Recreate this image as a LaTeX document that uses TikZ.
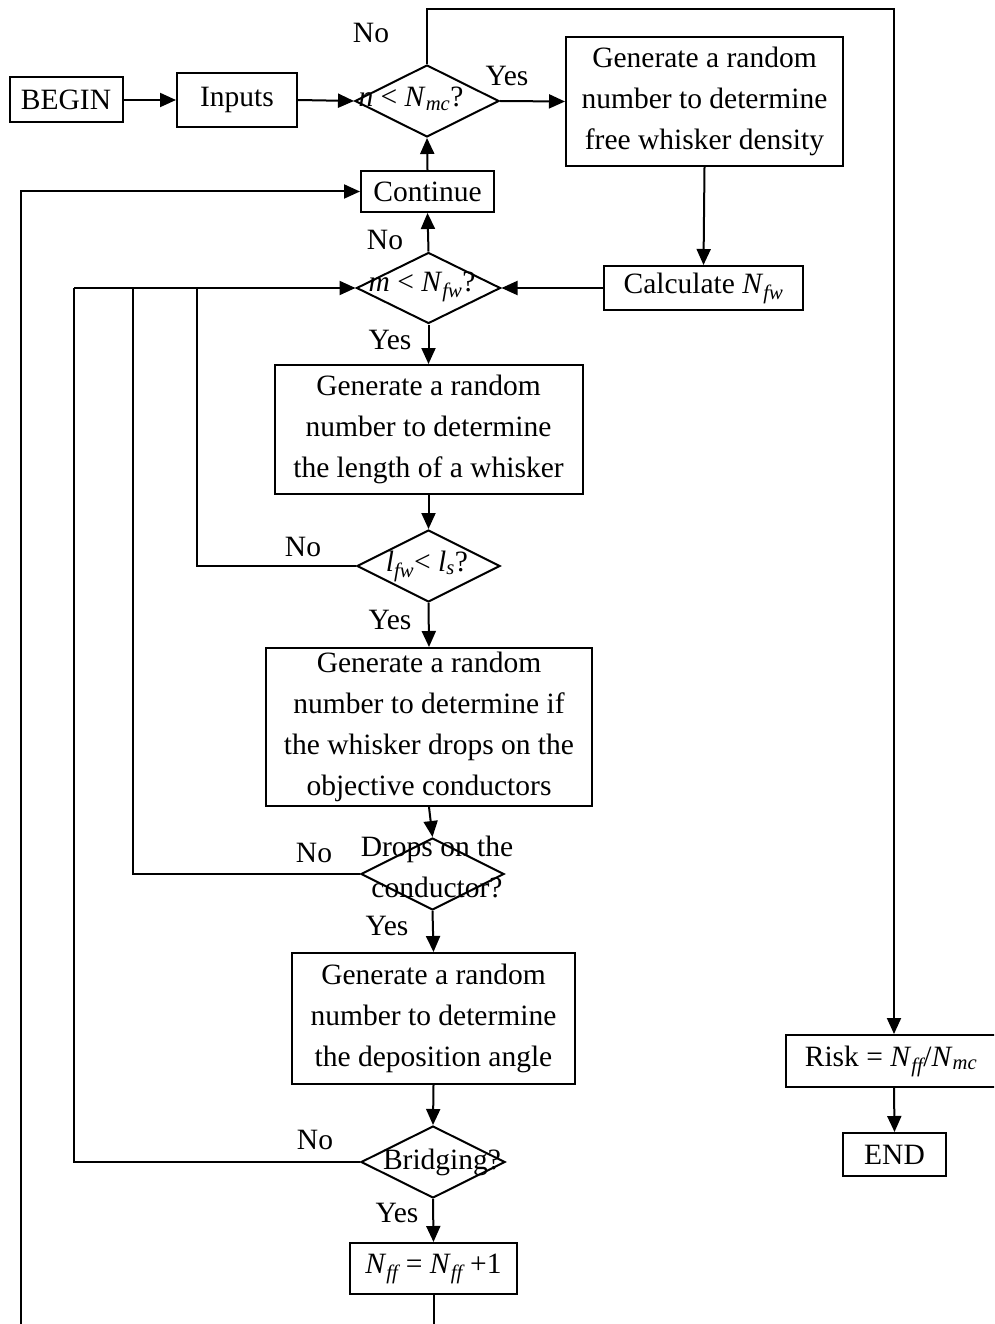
\documentclass[tikz,border=0pt]{standalone}
\usepackage{fontspec}
\setmainfont{Liberation Serif}
\usetikzlibrary{shapes.geometric,arrows.meta}
% italic variable with italic subscript
\newcommand\vi[1]{\textit{#1}}
\newcommand\vsub[1]{\textsubscript{\itshape #1}}
\begin{document}
\begin{tikzpicture}[x=1pt,y=-1pt,
  every node/.style={font=\fontsize{29.5}{41}\selectfont, inner sep=0pt},
  box/.style={draw, line width=2pt, rectangle, align=center},
  decision/.style={draw, line width=2pt, diamond},
  flow/.style={line width=2pt, -{Triangle[length=16pt,width=14pt]}},
  wire/.style={line width=2pt}]
\useasboundingbox (0,0) rectangle (994,1324);
\clip (0,0) rectangle (994,1324);

% main column
\node[box, minimum width=113pt, minimum height=45pt] (begin) at (66,100) {BEGIN};
\node[box, minimum width=120pt, minimum height=54pt] (inputs) at (237,100) {Inputs};
\node[decision, minimum width=144pt, minimum height=72pt] (d1) at (427,101) {};
\node (d1t) at (411,99) {\vi{n} < \vi{N}\vsub{mc}?};
\node[box, minimum width=277pt, minimum height=129pt] (gen1) at (704.5,101.5)
  {Generate a random\\number to determine\\free whisker density};
\node[box, minimum width=199pt, minimum height=44pt] (calc) at (703.5,288)
  {Calculate \vi{N}\vsub{fw}};
\node[box, minimum width=133pt, minimum height=41pt] (cont) at (427.5,191.5) {Continue};
\node[decision, minimum width=144pt, minimum height=71pt] (d2) at (428.5,288) {};
\node (d2t) at (422,287) {\vi{m} < \vi{N}\vsub{fw}?};
\node[box, minimum width=308pt, minimum height=129pt] (gen2) at (428.5,429.5)
  {Generate a random\\number to determine\\the length of a whisker};
\node[decision, minimum width=143pt, minimum height=72pt] (d3) at (428.5,566) {};
\node (d3t) at (427,566) {\vi{l}\vsub{fw}< \vi{l}\vsub{s}?};
\node[box, minimum width=326pt, minimum height=158pt] (gen3) at (429,727)
  {Generate a random\\number to determine if\\the whisker drops on the\\objective conductors};
\node[decision, minimum width=143pt, minimum height=72pt] (d4) at (432.5,874) {};
\node[align=center] (d4t) at (437,867) {Drops on the\\conductor?};
\node[box, minimum width=283pt, minimum height=131pt] (gen4) at (433.5,1018.5)
  {Generate a random\\number to determine\\the deposition angle};
\node[decision, minimum width=144pt, minimum height=72pt] (d5) at (433,1162) {};
\node (d5t) at (442,1162) {Bridging?};
\node[box, minimum width=167pt, minimum height=51pt] (nff) at (433.5,1268.5)
  {\vi{N}\vsub{ff} = \vi{N}\vsub{ff} +1};

% result column
\node[box, minimum width=216pt, minimum height=52pt] (risk) at (894,1061)
  {Risk = \vi{N}\vsub{ff}/\vi{N}\vsub{mc}\hspace{6pt}};
\node[box, minimum width=103pt, minimum height=43pt] (finish) at (894.5,1154.5) {END};

% branch labels
\node (no1) at (371,33) {No};
\node (yes1) at (507,76) {Yes};
\node (no2) at (385,240) {No};
\node (yes2) at (390,340) {Yes};
\node (no3) at (303,547) {No};
\node (yes3) at (390,620) {Yes};
\node (no4) at (314,853) {No};
\node (yes4) at (387,926) {Yes};
\node (no5) at (315,1140) {No};
\node (yes5) at (397,1213) {Yes};

% junction and edge points
\coordinate (topR) at (894,9);
\coordinate (jA) at (74,288);
\coordinate (jB) at (133,288);
\coordinate (jC) at (197,288);
\coordinate (botL) at (21,1324);
\coordinate (botR) at (433.5,1324);

% connectors
\draw[flow] (begin.east) -- (inputs.west);
\draw[flow] (inputs.east) -- (d1.west);
\draw[flow] (d1.east) -- (gen1.west);
\draw[flow] (gen1.south) -- (calc.north);
\draw[flow] (calc.west) -- (d2.east);
\draw[flow] (d2.north) -- (cont.south);
\draw[flow] (cont.north) -- (d1.south);
\draw[flow] (d2.south) -- (gen2.north);
\draw[flow] (gen2.south) -- (d3.north);
\draw[flow] (d3.south) -- (gen3.north);
\draw[flow] (gen3.south) -- (d4.north);
\draw[flow] (d4.south) -- (gen4.north);
\draw[flow] (gen4.south) -- (d5.north);
\draw[flow] (d5.south) -- (nff.north);
\draw[flow] (risk.south) -- (finish.north);
\draw[flow] (d1.north) |- (topR) -- (risk.north);
\draw[wire] (d5.west) -| (jA);
\draw[wire] (d4.west) -| (jB);
\draw[wire] (d3.west) -| (jC);
\draw[flow] (jA) -- (d2.west);
\draw[wire] (nff.south) -- (botR);
\draw[flow] (botL) |- (cont.west);
\end{tikzpicture}
\end{document}
